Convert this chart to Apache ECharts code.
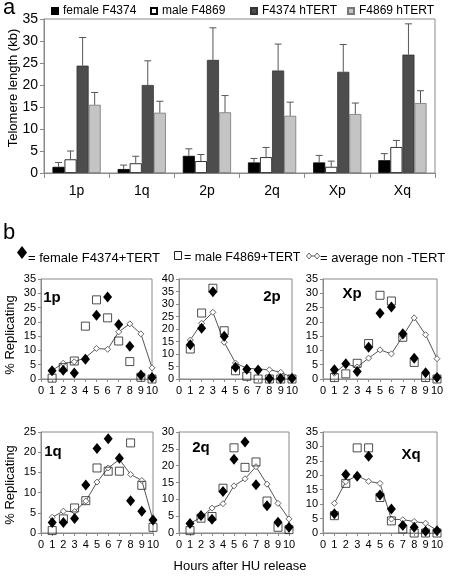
<!DOCTYPE html>
<html><head><meta charset="utf-8">
<script src="https://cdn.jsdelivr.net/npm/echarts@6/dist/echarts.min.js"></script>
<style>html,body{margin:0;padding:0;background:#fff}#c{width:458px;height:578px}</style>
</head><body><div id="c"></div>
<script>
// ---------- Panel a data ----------
const chromCats = ['1p','1q','2p','2q','Xp','Xq'];
const femaleF4374 = [1.4, 0.9, 3.9, 2.4, 2.4, 2.9];
const femaleF4374Err = [1.0, 0.9, 1.6, 0.9, 1.6, 1.5];
const maleF4869 = [3.1, 2.2, 2.7, 3.6, 1.4, 5.9];
const maleF4869Err = [1.9, 1.6, 1.5, 2.2, 1.3, 1.5];
const f4374hTERT = [24.4, 20.0, 25.7, 23.3, 23.0, 26.9];
const f4374hTERTErr = [6.4, 5.5, 7.3, 6.0, 6.2, 7.0];
const f4869hTERT = [15.5, 13.7, 13.8, 13.0, 13.4, 15.9];
const f4869hTERTErr = [2.8, 2.6, 3.8, 3.1, 2.5, 2.8];
const yTicksA = [0, 5, 10, 15, 20, 25, 30, 35];

// ---------- Panel b data ----------
const hours = [1,2,3,4,5,6,7,8,9,10];
const avg1p  = [3.0, 5.5, 6.0, 7.5, 10.7, 10.4, 16.5, 19.3, 15.8, 3.9];
const fem1p  = [2.9, 3.1, 2.1, 6.9, 22.3, 28.7, 19.1, 11.5, 1.4, 0.5];
const male1p = [0.3, 4.0, 6.3, 18.5, 27.7, 21.4, 13.3, 6.1, 0.6, 0.0];
const avg2p  = [15.6, 22.3, 26.7, 14.7, 6.4, 4.3, 4.0, 3.7, 2.7, 0.7];
const fem2p  = [13.7, 20.3, 34.9, 17.1, 4.7, 3.9, 3.6, 0.2, 0.2, 0.3];
const male2p = [12.0, 26.4, 36.3, 19.3, 3.3, 1.1, 0.0, 0.0, 0.0, 0.0];
const avgXp  = [2.0, 5.3, 4.2, 7.3, 10.2, 8.8, 15.0, 21.4, 15.5, 7.1];
const femXp  = [3.2, 5.3, 2.6, 11.1, 23.0, 25.2, 15.8, 7.3, 2.2, 0.5];
const maleXp = [0.5, 1.8, 5.5, 12.4, 29.3, 27.3, 14.6, 5.8, 0.5, 0.0];
const avg1q  = [3.9, 5.4, 5.3, 7.9, 12.6, 16.1, 18.2, 14.5, 13.0, 3.2];
const fem1q  = [2.6, 2.6, 3.6, 11.9, 20.9, 23.3, 18.5, 8.0, 5.4, 3.2];
const male1q = [0.6, 3.5, 6.2, 8.0, 16.1, 15.3, 15.3, 22.3, 11.8, 1.4];
const avg2q  = [2.8, 4.7, 7.4, 8.7, 14.0, 16.1, 19.7, 14.5, 8.8, 4.2];
const fem2q  = [2.8, 5.2, 4.1, 12.3, 21.9, 27.0, 14.3, 8.1, 3.2, 1.7];
const male2q = [0.7, 4.4, 4.9, 13.3, 25.3, 19.5, 21.1, 9.5, 1.7, 1.0];
const avgXq  = [10.3, 17.8, 19.9, 17.9, 17.2, 4.8, 4.6, 4.0, 3.4, 0.9];
const femXq  = [6.7, 20.3, 19.7, 26.6, 13.2, 8.3, 2.6, 2.0, 0.6, 0.8];
const maleXq = [6.0, 17.2, 29.5, 29.5, 12.3, 4.2, 1.4, 0.0, 0.0, 0.0];
const panelNames = ['1p','2p','Xp','1q','2q','Xq'];
const panelMax = [35, 40, 35, 25, 30, 35];

const FONT = '"Liberation Sans", Arial, sans-serif';
const chart = echarts.init(document.getElementById('c'), null, {renderer: 'canvas'});

const barSeriesDefs = [
  {name: 'female F4374', data: femaleF4374, err: femaleF4374Err, color: '#000000', border: '#000'},
  {name: 'male F4869', data: maleF4869, err: maleF4869Err, color: '#ffffff', border: '#000'},
  {name: 'F4374 hTERT', data: f4374hTERT, err: f4374hTERTErr, color: '#4d4d4d', border: '#333'},
  {name: 'F4869 hTERT', data: f4869hTERT, err: f4869hTERTErr, color: '#c4c4c4', border: '#777'}
];
const CAT_GAP = 0.26;

const grids = [{left: 44, top: 19, width: 391, height: 154, show: true, borderColor: '#8a8a8a', borderWidth: 1}];
const panelGrids = [
  {left: 41, top: 279, width: 111, height: 100},
  {left: 179, top: 279, width: 113, height: 100},
  {left: 323, top: 279, width: 114, height: 100},
  {left: 41, top: 432, width: 112, height: 101},
  {left: 179, top: 432, width: 110, height: 101},
  {left: 323, top: 432, width: 114, height: 101}
];
panelGrids.forEach(g => grids.push(Object.assign({show: true, borderColor: '#8a8a8a', borderWidth: 1}, g)));

const xAxes = [{
  type: 'category', gridIndex: 0, data: chromCats,
  axisLine: {lineStyle: {color: '#8a8a8a'}},
  axisTick: {show: true, length: 5, lineStyle: {color: '#8a8a8a'}},
  axisLabel: {color: '#000', fontSize: 14, fontFamily: FONT, margin: 11}
}];
const yAxes = [{
  type: 'value', gridIndex: 0, min: yTicksA[0], max: yTicksA[yTicksA.length-1], interval: 5,
  axisLine: {show: true, lineStyle: {color: '#8a8a8a'}},
  axisTick: {show: true, length: 4, lineStyle: {color: '#8a8a8a'}},
  splitLine: {show: false},
  axisLabel: {color: '#000', fontSize: 14, fontFamily: FONT, margin: 6}
}];
panelGrids.forEach((g, i) => {
  xAxes.push({
    type: 'value', gridIndex: i+1, min: 0, max: 10, interval: 1,
    axisLine: {lineStyle: {color: '#8a8a8a'}},
    axisTick: {show: true, length: 3, lineStyle: {color: '#8a8a8a'}},
    splitLine: {show: false},
    axisLabel: {color: '#000', fontSize: 11, fontFamily: FONT, margin: 6}
  });
  yAxes.push({
    type: 'value', gridIndex: i+1, min: 0, max: panelMax[i], interval: 5,
    axisLine: {show: true, lineStyle: {color: '#8a8a8a'}},
    axisTick: {show: true, length: 3, lineStyle: {color: '#8a8a8a'}},
    splitLine: {show: false},
    axisLabel: {color: '#000', fontSize: 11, fontFamily: FONT, margin: 5}
  });
});

const series = [];
barSeriesDefs.forEach(d => {
  series.push({
    name: d.name, type: 'bar', xAxisIndex: 0, yAxisIndex: 0, data: d.data,
    barGap: '0%', barCategoryGap: (CAT_GAP*100) + '%',
    itemStyle: {color: d.color, borderColor: d.border, borderWidth: 0.8},
    emphasis: {disabled: true}, silent: true, animation: false
  });
});
barSeriesDefs.forEach((d, si) => {
  series.push({
    type: 'custom', xAxisIndex: 0, yAxisIndex: 0, z: 5, silent: true, animation: false,
    data: d.data.map((v, i) => [i, v, d.err[i]]),
    renderItem: function (params, api) {
      const idx = api.value(0), val = api.value(1), err = api.value(2);
      const band = api.size([1, 0])[0];
      const bw = band * (1 - CAT_GAP) / 4;
      const base = api.coord([idx, val]);
      const top = api.coord([idx, val + err]);
      const x = base[0] - band * (1 - CAT_GAP) / 2 + bw * (si + 0.5);
      const st = {stroke: '#555', lineWidth: 1};
      return {type: 'group', children: [
        {type: 'line', shape: {x1: x, y1: base[1], x2: x, y2: top[1]}, style: st},
        {type: 'line', shape: {x1: x - 3.5, y1: top[1], x2: x + 3.5, y2: top[1]}, style: st}
      ]};
    }
  });
});

const panelData = [
  [avg1p, male1p, fem1p], [avg2p, male2p, fem2p], [avgXp, maleXp, femXp],
  [avg1q, male1q, fem1q], [avg2q, male2q, fem2q], [avgXq, maleXq, femXq]
];
panelData.forEach((pd, i) => {
  const ax = i + 1;
  const pair = arr => hours.map((h, k) => [h, arr[k]]);
  series.push({
    type: 'line', xAxisIndex: ax, yAxisIndex: ax, data: pair(pd[0]),
    symbol: 'diamond', symbolSize: 6, showAllSymbol: true,
    lineStyle: {color: '#555', width: 1},
    itemStyle: {color: '#fff', borderColor: '#666', borderWidth: 1},
    silent: true, animation: false, z: 2
  });
  series.push({
    type: 'scatter', xAxisIndex: ax, yAxisIndex: ax, data: pair(pd[1]),
    symbol: 'rect', symbolSize: 8, clip: false,
    itemStyle: {color: 'rgba(255,255,255,0)', borderColor: '#222', borderWidth: 1},
    silent: true, animation: false, z: 3
  });
  series.push({
    type: 'scatter', xAxisIndex: ax, yAxisIndex: ax, data: pair(pd[2]),
    symbol: 'diamond', symbolSize: [9, 11], clip: false,
    itemStyle: {color: '#000', opacity: 1},
    silent: true, animation: false, z: 4
  });
});

const legendLefts = [46, 145, 245, 342];
const legends = barSeriesDefs.map((d, i) => ({
  data: [d.name], left: legendLefts[i], top: 0, itemWidth: 6, itemHeight: 6, icon: 'rect',
  selectedMode: false, textStyle: {fontSize: 12, fontFamily: FONT, color: '#000'}
}));

const panelLabelPos = [[52, 298], [272, 297], [352, 294], [53, 452], [201, 448], [411, 455]];
const graphics = [
  {type: 'text', left: 3, top: -3, style: {text: 'a', font: '22px ' + FONT, fill: '#000'}},
  {type: 'text', left: 3, top: 222, style: {text: 'b', font: '22px ' + FONT, fill: '#000'}},
  {type: 'text', x: 13, y: 88, rotation: Math.PI/2, style: {text: 'Telomere length (kb)', font: '13px ' + FONT, fill: '#000', align: 'center', verticalAlign: 'middle'}},
  {type: 'text', x: 10, y: 335, rotation: Math.PI/2, style: {text: '% Replicating', font: '13px ' + FONT, fill: '#000', align: 'center', verticalAlign: 'middle'}},
  {type: 'text', x: 10, y: 485, rotation: Math.PI/2, style: {text: '% Replicating', font: '13px ' + FONT, fill: '#000', align: 'center', verticalAlign: 'middle'}},
  {type: 'text', x: 240, y: 566, style: {text: 'Hours after HU release', font: '13px ' + FONT, fill: '#000', align: 'center', verticalAlign: 'middle'}},
  // legend of panel b
  {type: 'polygon', shape: {points: [[22, 246], [27, 252.5], [22, 259], [17, 252.5]]}, style: {fill: '#000'}},
  {type: 'text', x: 28, y: 258, style: {text: '= female F4374+TERT', font: '13px ' + FONT, fill: '#000', verticalAlign: 'middle'}},
  {type: 'rect', shape: {x: 174.5, y: 251.5, width: 7, height: 8}, style: {fill: '#fff', stroke: '#222', lineWidth: 1}},
  {type: 'text', x: 184, y: 258, style: {text: '= male F4869+TERT', font: '12.5px ' + FONT, fill: '#000', verticalAlign: 'middle'}},
  {type: 'line', shape: {x1: 309, y1: 256, x2: 317, y2: 256}, style: {stroke: '#555', lineWidth: 1}},
  {type: 'polygon', shape: {points: [[309, 253], [311.5, 256], [309, 259], [306.5, 256]]}, style: {fill: '#fff', stroke: '#666', lineWidth: 1}},
  {type: 'polygon', shape: {points: [[317, 253], [319.5, 256], [317, 259], [314.5, 256]]}, style: {fill: '#fff', stroke: '#666', lineWidth: 1}},
  {type: 'text', x: 320, y: 258, style: {text: '= average non -TERT', font: '13px ' + FONT, fill: '#000', verticalAlign: 'middle'}}
];
panelNames.forEach((n, i) => {
  graphics.push({type: 'text', x: panelLabelPos[i][0], y: panelLabelPos[i][1], style: {text: n, font: 'bold 15px ' + FONT, fill: '#000', align: 'center', verticalAlign: 'middle'}});
});

chart.setOption({
  animation: false,
  backgroundColor: '#fff',
  textStyle: {fontFamily: FONT},
  grid: grids, xAxis: xAxes, yAxis: yAxes, series: series,
  legend: legends, graphic: graphics
});
</script></body></html>
